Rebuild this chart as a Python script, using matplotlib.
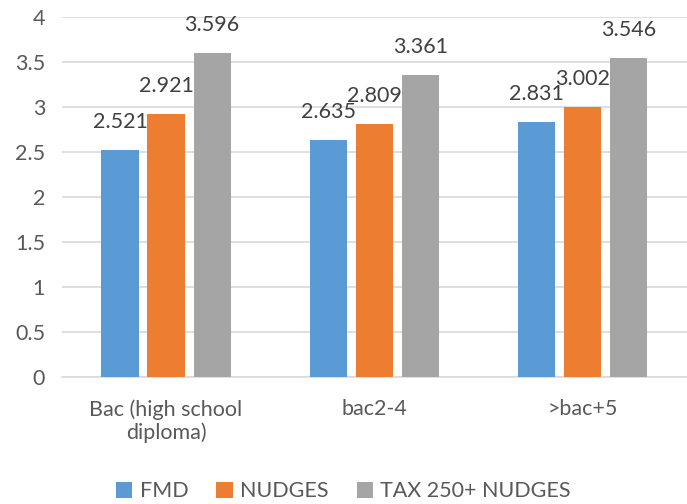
import numpy as np
import matplotlib
matplotlib.use('Agg')
import matplotlib.pyplot as plt

plt.rcParams['font.family'] = ['Lato', 'DejaVu Sans']

# Datos
categorias = ['Bac (high school\ndiploma)', 'bac2-4', '>bac+5']
series = ['FMD', 'NUDGES', 'TAX 250+ NUDGES']
fmd = [2.521, 2.635, 2.831]
nudges = [2.921, 2.809, 3.002]
tax = [3.596, 3.361, 3.546]
colores = ['#5B9BD5', '#ED7D31', '#A5A5A5']
TEXTO = '#595959'

fig = plt.figure(figsize=(6.87, 5.04), dpi=100)
ax = fig.add_axes([0.09, 0.252, 0.91, 0.714])

x = np.arange(len(categorias))
ancho = 0.178
paso = 0.221
for i, (vals, nombre) in enumerate(zip([fmd, nudges, tax], series)):
    barras = ax.bar(x + (i - 1) * paso, vals, ancho, color=colores[i], label=nombre, zorder=3)
    for b, v in zip(barras, vals):
        ax.annotate(f'{v:.3f}', (b.get_x() + b.get_width() / 2, v), xytext=(0, 13),
                    textcoords='offset points', ha='center', va='bottom',
                    fontsize=15.5, color='#404040')

ax.set_xlim(-0.5, 2.5)
ax.set_ylim(0, 4)
ax.set_yticks(np.arange(0, 4.01, 0.5))
ax.set_yticklabels(['0', '0.5', '1', '1.5', '2', '2.5', '3', '3.5', '4'])
ax.set_xticks(x)
ax.set_xticklabels(categorias, linespacing=1.15)
ax.tick_params(axis='both', length=0, labelsize=15.5, labelcolor=TEXTO)
ax.tick_params(axis='x', pad=16)
ax.tick_params(axis='y', pad=12)
ax.grid(axis='y', color='#D9D9D9', linewidth=1.2, zorder=0)
for s in ['top', 'right', 'left']:
    ax.spines[s].set_visible(False)
ax.spines['bottom'].set_color('#D9D9D9')
ax.spines['bottom'].set_linewidth(1.2)

fig.legend(loc='lower center', bbox_to_anchor=(0.5, -0.033), ncol=3, frameon=False,
           fontsize=15.5, labelcolor=TEXTO, handlelength=0.75, handleheight=0.75,
           handletextpad=0.35, columnspacing=1.3)

fig.savefig('out.png', dpi=100)
